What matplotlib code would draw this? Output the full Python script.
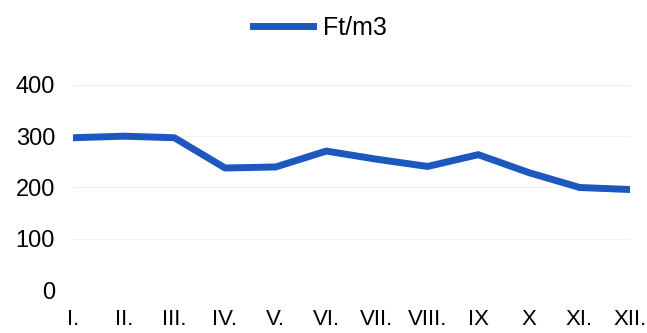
import matplotlib
matplotlib.use("Agg")
import matplotlib.pyplot as plt

months = ["I.", "II.", "III.", "IV.", "V.", "VI.", "VII.", "VIII.", "IX", "X", "XI.", "XII."]
values = [297, 300, 297, 238, 240, 271, 255, 241, 264, 229, 200, 196]
yticks = [0, 100, 200, 300, 400]

plt.rcParams['font.family'] = ['Liberation Sans', 'DejaVu Sans']

fig = plt.figure(figsize=(6.47, 3.33), dpi=100)
ax = fig.add_axes([0.113, 0.129, 0.861, 0.616])
x = list(range(len(months)))
line, = ax.plot(x, values, color='#1c58bd', linewidth=5, solid_joinstyle='round', label='Ft/m3')
ax.set_xlim(0, len(months) - 1)
ax.set_ylim(0, 400)
ax.set_yticks(yticks)
ax.set_yticklabels([str(v) for v in yticks], fontsize=17)
ax.set_xticks(x)
ax.set_xticklabels(months, fontsize=16)
for s in ax.spines.values():
    s.set_visible(False)
ax.tick_params(axis='both', length=0)
ax.tick_params(axis='y', pad=13)
ax.tick_params(axis='x', pad=14)
ax.grid(axis='y', color='#f0f0f0', linewidth=0.8)
ax.set_axisbelow(True)
fig.legend(handles=[line], loc='upper center', bbox_to_anchor=(0.495, 1.02), frameon=False,
           fontsize=18, handlelength=2.4, handletextpad=0.4)
fig.savefig("out.png", dpi=100)
